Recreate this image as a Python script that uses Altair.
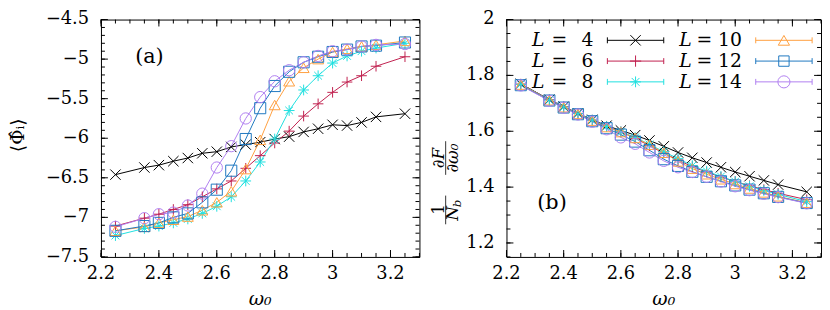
import altair as alt
import pandas as pd

# ---------------- data ----------------
omega = [2.25, 2.35, 2.4, 2.45, 2.5, 2.55, 2.6, 2.65, 2.7, 2.75, 2.8, 2.85,
         2.9, 2.95, 3.0, 3.05, 3.1, 3.15, 3.25]
sizes = ["4", "6", "8", "10", "12", "14"]
colors = ["#000000", "#c0204f", "#1fe0e0", "#ffa040", "#1f78c0", "#b080f0"]

phi4 = [-6.46, -6.37, -6.34, -6.29, -6.25, -6.19, -6.17, -6.11, -6.08, -6.05, -6.01, -5.98, -5.92, -5.88, -5.83, -5.84, -5.80, -5.73, -5.69]
phi6 = [-7.11, -7.01, -6.96, -6.90, -6.84, -6.74, -6.64, -6.54, -6.38, -6.22, -6.06, -5.91, -5.72, -5.565, -5.42, -5.29, -5.21, -5.09, -4.97]
phi8 = [-7.23, -7.14, -7.11, -7.07, -7.02, -6.95, -6.86, -6.74, -6.54, -6.30, -6.01, -5.65, -5.39, -5.21, -5.05, -4.96, -4.90, -4.86, -4.80]
phi10 = [-7.17, -7.12, -7.07, -7.03, -6.99, -6.91, -6.81, -6.67, -6.39, -6.02, -5.58, -5.28, -5.11, -5.00, -4.91, -4.87, -4.84, -4.82, -4.77]
phi12 = [-7.17, -7.11, -7.07, -7.00, -6.95, -6.81, -6.65, -6.41, -6.01, -5.62, -5.34, -5.16, -5.04, -4.97, -4.91, -4.88, -4.84, -4.83, -4.79]
phi14 = [-7.12, -7.01, -6.96, -6.94, -6.85, -6.70, -6.37, -6.10, -5.75, -5.48, -5.28, -5.14, -5.04, -4.96, -4.90, -4.88, -4.84, -4.82, -4.81]

dF4 = [1.770, 1.713, 1.688, 1.664, 1.641, 1.620, 1.603, 1.586, 1.567, 1.546, 1.524, 1.505, 1.488, 1.471, 1.454, 1.439, 1.424, 1.409, 1.383]
dF6 = [1.769, 1.713, 1.688, 1.664, 1.640, 1.618, 1.598, 1.575, 1.548, 1.522, 1.497, 1.473, 1.454, 1.436, 1.420, 1.405, 1.391, 1.378, 1.355]
dF8 = [1.768, 1.712, 1.687, 1.663, 1.640, 1.617, 1.598, 1.578, 1.553, 1.527, 1.502, 1.477, 1.457, 1.438, 1.420, 1.403, 1.388, 1.374, 1.348]
dF10 = [1.767, 1.711, 1.686, 1.662, 1.638, 1.615, 1.597, 1.576, 1.552, 1.523, 1.492, 1.466, 1.446, 1.428, 1.411, 1.395, 1.381, 1.367, 1.344]
dF12 = [1.765, 1.710, 1.685, 1.661, 1.636, 1.611, 1.588, 1.563, 1.532, 1.500, 1.476, 1.455, 1.437, 1.421, 1.406, 1.391, 1.378, 1.365, 1.343]
dF14 = [1.764, 1.709, 1.684, 1.660, 1.634, 1.607, 1.578, 1.555, 1.524, 1.494, 1.471, 1.454, 1.437, 1.420, 1.403, 1.389, 1.376, 1.364, 1.342]

phi_series = [phi4, phi6, phi8, phi10, phi12, phi14]
dF_series = [dF4, dF6, dF8, dF10, dF12, dF14]

x_ticks = [2.2, 2.4, 2.6, 2.8, 3.0, 3.2]
x_labels = ["2.2", "2.4", "2.6", "2.8", "3", "3.2"]
x_minor = [round(2.2 + 0.05 * i, 2) for i in range(23)]
phi_ticks = [-7.5, -7.0, -6.5, -6.0, -5.5, -5.0, -4.5]
phi_labels = ["\u22127.5", "\u22127", "\u22126.5", "\u22126", "\u22125.5", "\u22125", "\u22124.5"]
phi_minor = [round(-7.5 + 0.1 * i, 1) for i in range(31)]
dF_ticks = [1.2, 1.4, 1.6, 1.8, 2.0]
dF_labels = ["1.2", "1.4", "1.6", "1.8", "2"]
dF_minor = [round(1.15 + 0.05 * i, 2) for i in range(18)]

# ---------------- styling ----------------
FONT = "DejaVu Serif"
W1, W2, H = 322, 318, 240
X_PATH = "M-1,-1L1,1M-1,1L1,-1"
PLUS_PATH = "M-1,0L1,0M0,-1L0,1"
STAR_PATH = "M-1,0L1,0M0,-1L0,1M-0.72,-0.72L0.72,0.72M-0.72,0.72L0.72,-0.72"
shapes = [X_PATH, PLUS_PATH, STAR_PATH, "triangle-up", "square", "circle"]
msizes = [110, 130, 120, 130, 110, 150]


def long_df(series):
    rows = []
    for k, (lab, vals) in enumerate(zip(sizes, series)):
        for o, v in zip(omega, vals):
            rows.append({"omega": o, "val": v, "L": lab, "k": k})
    return pd.DataFrame(rows)


color_enc = alt.Color("L:N", scale=alt.Scale(domain=sizes, range=colors), legend=None)
shape_enc = alt.Shape("L:N", scale=alt.Scale(domain=sizes, range=shapes), legend=None)
size_enc = alt.Size("L:N", scale=alt.Scale(domain=sizes, range=msizes), legend=None)

one = pd.DataFrame({"a": [0]})


def tick_layers(xs, ys, xmaj, xlab, xmin, ymaj, ylab, ymin, W):
    layers = []
    for vals, ln in ((xmaj, 7), (xmin, 4)):
        d = pd.DataFrame({"t": vals})
        layers.append(alt.Chart(d).mark_rule(color="black", strokeWidth=1).encode(
            x=alt.X("t:Q", scale=xs), y=alt.value(H), y2=alt.value(H - ln)))
        layers.append(alt.Chart(d).mark_rule(color="black", strokeWidth=1).encode(
            x=alt.X("t:Q", scale=xs), y=alt.value(0), y2=alt.value(ln)))
    for vals, ln in ((ymaj, 7), (ymin, 4)):
        d = pd.DataFrame({"t": vals})
        layers.append(alt.Chart(d).mark_rule(color="black", strokeWidth=1).encode(
            y=alt.Y("t:Q", scale=ys), x=alt.value(0), x2=alt.value(ln)))
        layers.append(alt.Chart(d).mark_rule(color="black", strokeWidth=1).encode(
            y=alt.Y("t:Q", scale=ys), x=alt.value(W), x2=alt.value(W - ln)))
    # tick labels as text marks placed through the scales
    dx = pd.DataFrame({"t": xmaj, "lab": xlab})
    layers.append(alt.Chart(dx).mark_text(
        font=FONT, fontSize=18, baseline="top", align="center", color="black"
    ).encode(x=alt.X("t:Q", scale=xs), y=alt.value(H + 8), text="lab:N"))
    dy = pd.DataFrame({"t": ymaj, "lab": ylab})
    layers.append(alt.Chart(dy).mark_text(
        font=FONT, fontSize=18, baseline="middle", align="right", color="black"
    ).encode(y=alt.Y("t:Q", scale=ys), x=alt.value(-12), text="lab:N"))
    return layers


def txt(s, x, y, size=18, style="normal", align="center", angle=0):
    return alt.Chart(one).mark_text(
        text=s, font=FONT, fontSize=size, fontStyle=style, align=align,
        baseline="middle", angle=angle, color="black"
    ).encode(x=alt.value(x), y=alt.value(y))


def panel(series, ydomain, yticks, ylabels, yminor, W):
    xs = alt.Scale(domain=[2.2, 3.3], nice=False, zero=False)
    ys = alt.Scale(domain=ydomain, nice=False, zero=False)
    df = long_df(series)
    base = alt.Chart(df)
    lines = base.mark_line(strokeWidth=1, clip=True).encode(
        x=alt.X("omega:Q", scale=xs, axis=None),
        y=alt.Y("val:Q", scale=ys, axis=None),
        color=color_enc, detail="L:N", order="omega:Q")
    pts = base.mark_point(filled=False, strokeWidth=1, opacity=1).encode(
        x=alt.X("omega:Q", scale=xs, axis=None), y=alt.Y("val:Q", scale=ys, axis=None),
        color=color_enc, shape=shape_enc, size=size_enc)
    layers = tick_layers(xs, ys, x_ticks, x_labels, x_minor, yticks, ylabels, yminor, W)
    xtitle = txt("ω₀", W / 2, H + 43, size=19, style="italic")
    return layers, lines, pts, xtitle


# ---- left panel ----
lt, ll, lp, lx = panel(phi_series, [-7.5, -4.5], phi_ticks, phi_labels, phi_minor, W1)
left = alt.layer(
    ll, lp, *lt, lx,
    txt("(a)", 49, 38, size=21),
    txt("⟨Φ̂ᵢ⟩", -84, 117, size=19, angle=270),
).properties(width=W1, height=H)

# ---- right panel ----
rt, rl, rp, rx = panel(dF_series, [1.15, 2.0], dF_ticks, dF_labels, dF_minor, W2)

legend_layers = []
row_y = [21, 42, 63]
col_L = [32, 181]
col_eq = [53.5, 200]
col_num = [88, 238]
col_line = [(102, 159), (252, 309)]
for k, lab in enumerate(sizes):
    c, r = k // 3, k % 3
    y = row_y[r]
    legend_layers.append(txt("L", col_L[c], y, size=19, style="italic"))
    legend_layers.append(txt("=", col_eq[c], y, size=19))
    legend_layers.append(txt(lab, col_num[c], y, size=19, align="right"))
    x0, x1 = col_line[c]
    legend_layers.append(alt.Chart(one).mark_rule(color=colors[k], strokeWidth=1).encode(
        x=alt.value(x0), x2=alt.value(x1), y=alt.value(y)))
    for xe in (x0, x1):
        legend_layers.append(alt.Chart(one).mark_rule(color=colors[k], strokeWidth=1).encode(
            x=alt.value(xe), y=alt.value(y - 3), y2=alt.value(y + 3)))
    legend_layers.append(alt.Chart(one).mark_point(
        shape=shapes[k], filled=False, color=colors[k], size=msizes[k], strokeWidth=1, opacity=1
    ).encode(x=alt.value((x0 + x1) / 2), y=alt.value(y)))

ytitle_b = [
    txt("1", -68, 192, size=17, angle=270),
    txt("N", -54, 196, size=17, style="italic", angle=270),
    txt("b", -50, 186, size=12, style="italic", angle=270),
    alt.Chart(one).mark_rule(color="black", strokeWidth=0.8).encode(
        x=alt.value(-61.5), y=alt.value(178), y2=alt.value(207)),
    txt("∂F", -68, 140, size=17, style="italic", angle=270),
    txt("∂ω₀", -54, 140, size=17, style="italic", angle=270),
    alt.Chart(one).mark_rule(color="black", strokeWidth=0.8).encode(
        x=alt.value(-61.5), y=alt.value(123), y2=alt.value(157)),
]

right = alt.layer(
    rl, rp, *rt, rx, *legend_layers,
    txt("(b)", 46, 186, size=21),
    *ytitle_b,
).properties(width=W2, height=H)

chart = alt.hconcat(left, right, spacing=88, bounds="flush").properties(
    padding=0
).configure_view(stroke="black", strokeWidth=1)

chart.save("out.html", embed_options={"renderer": "svg", "actions": False})
